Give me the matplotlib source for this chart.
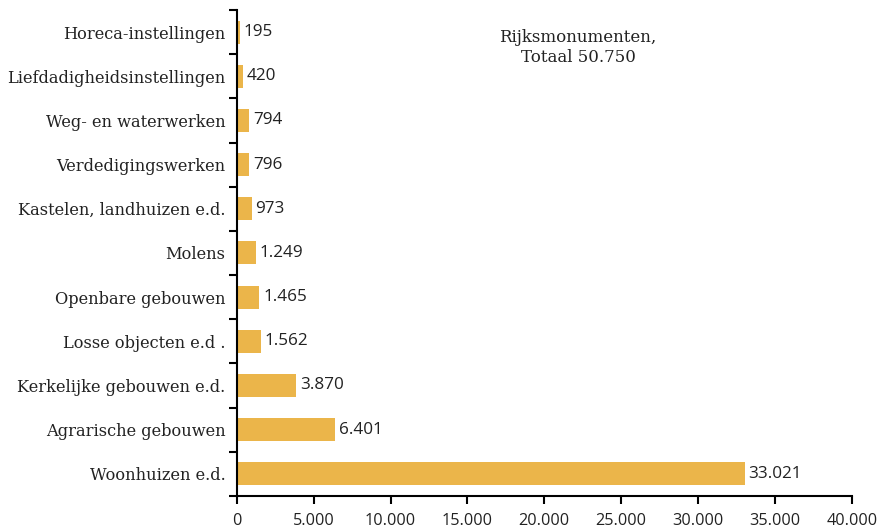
import numpy as np
import matplotlib.pyplot as plt

# Rijksmonumenten per categorie
categories = ['Woonhuizen e.d.', 'Agrarische gebouwen', 'Kerkelijke gebouwen e.d.',
              'Losse objecten e.d .', 'Openbare gebouwen', 'Molens',
              'Kastelen, landhuizen e.d.', 'Verdedigingswerken', 'Weg- en waterwerken',
              'Liefdadigheidsinstellingen', 'Horeca-instellingen']
values = [33021, 6401, 3870, 1562, 1465, 1249, 973, 796, 794, 420, 195]
xticks = [0, 5000, 10000, 15000, 20000, 25000, 30000, 35000, 40000]


def nl(v):
    return f'{v:,}'.replace(',', '.')


fig = plt.figure(figsize=(8.8, 5.27), dpi=100)
ax = fig.add_axes([0.269, 0.059, 0.699, 0.922])

y = np.arange(len(categories))
ax.barh(y, values, height=0.52, color='#EBB54A')

for yi, v in zip(y, values):
    ax.text(v + 250, yi, nl(v), va='center', ha='left', fontsize=12.3,
            family='Open Sans', color='#222222')

ax.set_xlim(0, 40000)
ax.set_ylim(-0.5, len(categories) - 0.5)
ax.set_xticks(xticks)
ax.set_xticklabels([nl(t) for t in xticks], family='Open Sans', fontsize=11.7,
                   color='#222222')

# ticks on the category boundaries, labels in between
ax.set_yticks(np.arange(-0.5, len(categories), 1.0))
ax.set_yticklabels([])
ax.set_yticks(y, minor=True)
ax.set_yticklabels(categories, minor=True, family='DejaVu Serif', fontsize=11.7,
                   color='#222222')
ax.tick_params(axis='y', which='minor', length=0, pad=8)
ax.tick_params(axis='y', which='major', length=6, width=1.5)
ax.tick_params(axis='x', length=6, width=1.5, pad=6)

for s in ['top', 'right']:
    ax.spines[s].set_visible(False)
for s in ['left', 'bottom']:
    ax.spines[s].set_linewidth(1.5)

ax.text(22200, 9.65, 'Rijksmonumenten,\nTotaal 50.750', ha='center', va='center',
        family='DejaVu Serif', fontsize=12, color='#222222', linespacing=1.2)

fig.savefig('out.png', dpi=100)
